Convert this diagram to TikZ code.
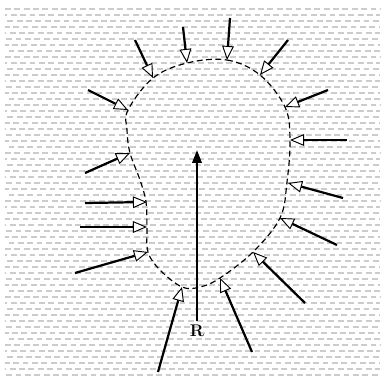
\documentclass[tikz,border=0pt]{standalone}
\usetikzlibrary{arrows.meta}
\begin{document}
\begin{tikzpicture}[x=0.03cm,y=-0.03cm,
  hatch/.style={gray!40,line width=0.9pt},
  push/.style={line width=1.9pt,-{Triangle[fill=white,length=12pt,width=10pt,line width=0.8pt]}},
  load/.style={line width=2pt,-{Triangle[length=11pt,width=8pt]}}]
\useasboundingbox (0,0) rectangle (384,380);
\fill[white] (0,0) rectangle (384,380);
% medium
\foreach \i [evaluate=\i as \ph using {mod(\i*3,8)}] in {0,...,61}
  \draw[hatch,dash pattern=on 5pt off 3pt,dash phase=\ph pt] (5,9+6*\i) -- (380,9+6*\i);
% cavity
\draw[line width=1pt,dash pattern=on 5pt off 3pt] plot[smooth cycle,tension=0.6] coordinates {(187,63) (227,60) (260,75) (285,107) (290,140) (287,182) (280,218) (253,252) (220,278) (200,287) (182,287) (160,270) (148,252) (147,227) (146,202) (140,180) (130,153) (127,130) (128,110) (153,78)};
% pressure
\foreach \n/\tx/\ty/\hx/\hy in {1/135/40/153/78, 2/183/27/187/63, 3/230/18/227/60, 4/288/40/260/75,
  5/328/90/285/107, 6/347/140/290/140, 7/343/198/288/183, 8/337/245/280/218,
  9/305/303/253/252, 10/252/352/220/278, 11/158/372/182/287, 12/75/273/148/252,
  13/80/227/147/227, 14/85/203/147/202, 15/85/173/130/153, 16/88/90/128/110}{
  \coordinate (t\n) at (\tx,\ty);
  \coordinate (h\n) at (\hx,\hy);
  \draw[push] (t\n) -- (h\n);
}
\node[font=\bfseries\Large,inner sep=3pt] (lblR) at (197,331) {R};
\coordinate (ctr) at (197,150);
\draw[load] (lblR.north) -- (ctr);
\end{tikzpicture}
\end{document}
